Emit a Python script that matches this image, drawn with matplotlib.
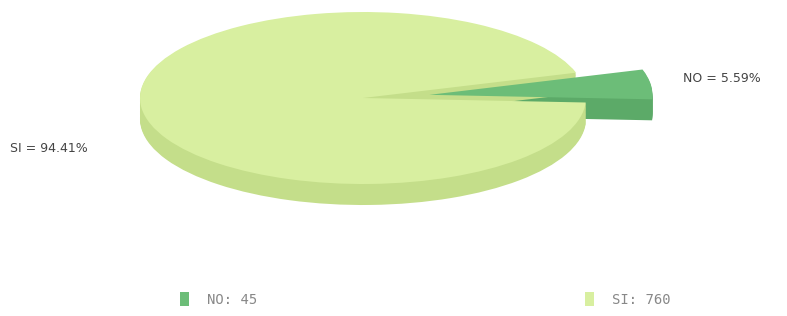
import matplotlib
matplotlib.use("Agg")
import matplotlib.pyplot as plt
from matplotlib.patches import Rectangle
import numpy as np

# data
labels = ["NO", "SI"]
values = [45, 760]
top_colors = ["#6cbd78", "#d8efa0"]
side_colors = ["#5caa68", "#c4de8a"]
explode = [0.3, 0]

W, H = 787, 316
fig = plt.figure(figsize=(W / 100, H / 100), dpi=100)

# pie axes: unit circle -> ellipse centred at (363, 98) px, rx=223, ry=86
cx, cy, rx, ry = 363, 98, 223, 86
x0, x1 = -1.0, 1.5
y0, y1 = -1.35, 1.0
ax = fig.add_axes([(cx + x0 * rx) / W, (H - (cy - y0 * ry)) / H,
                   (x1 - x0) * rx / W, (y1 - y0) * ry / H])

depth = 21 / ry
pct = np.array(values) / sum(values) * 100


def draw(offset, colors, which):
    wedges, _ = ax.pie(values, startangle=-3, explode=explode, colors=colors,
                       center=(0, offset), radius=1,
                       wedgeprops=dict(linewidth=0))
    for i, w in enumerate(wedges):
        w.set_visible(i in which)
        w.set_clip_on(False)


# side layers: NO behind, then SI
for d in np.linspace(-depth, -0.01, 18):
    draw(d, side_colors, [0])
for d in np.linspace(-depth, -0.01, 18):
    draw(d, side_colors, [1])
draw(0, top_colors, [1])
draw(0, top_colors, [0])

ax.set_aspect("auto")
ax.set_xlim(x0, x1)
ax.set_ylim(y0, y1)
ax.axis("off")

# slice labels
fig.text(683 / W, 1 - 79 / H, f"{labels[0]} = {pct[0]:.2f}%", fontsize=9,
         color="#444444", va="center", ha="left")
fig.text(10 / W, 1 - 148 / H, f"{labels[1]} = {pct[1]:.2f}%", fontsize=9,
         color="#444444", va="center", ha="left")

# legend
leg_x = [180, 585]
for lx, lab, val, col in zip(leg_x, labels, values, top_colors):
    fig.add_artist(Rectangle((lx / W, 1 - 306 / H), 9 / W, 14 / H,
                             transform=fig.transFigure, color=col, lw=0))
    fig.text((lx + 27) / W, 1 - 300 / H, f"{lab}: {val}", fontsize=10,
             family="DejaVu Sans Mono", color="#888888", va="center", ha="left")

fig.savefig("out.png", dpi=100)
